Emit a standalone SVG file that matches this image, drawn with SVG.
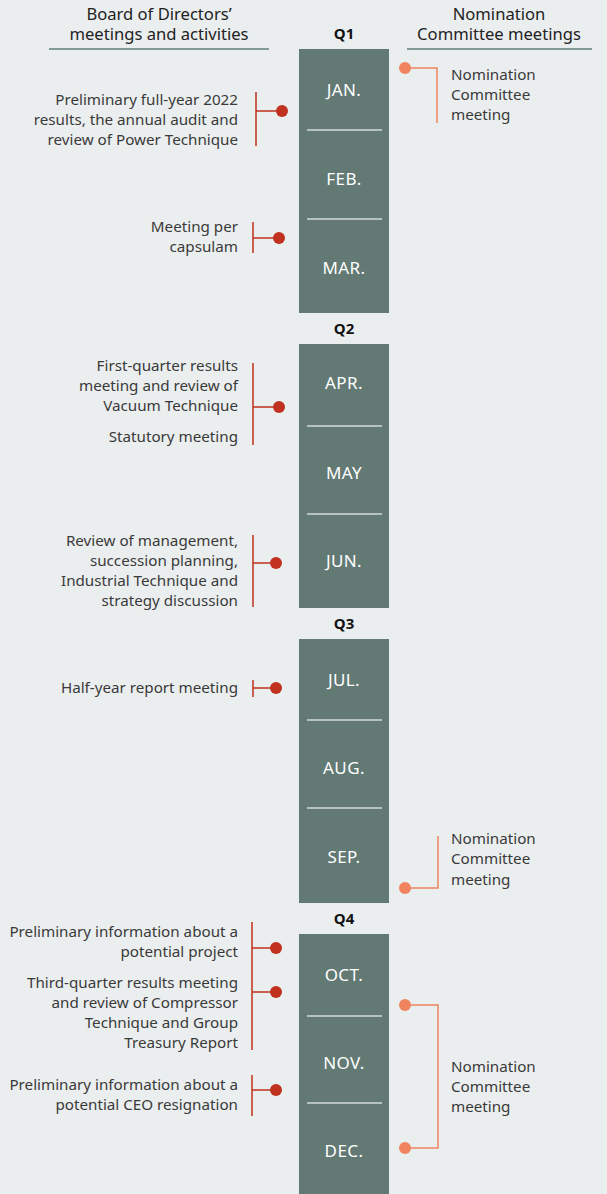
<svg xmlns="http://www.w3.org/2000/svg" width="607" height="1194" viewBox="0 0 607 1194">
<style>
.bg{fill:#ebeeef}
.col{fill:#627974}
.div{stroke:#d5dad8;stroke-width:1.5}
.mon{font-family:"Noto Sans","Open Sans",sans-serif;font-size:17px;letter-spacing:0.4px;fill:#ffffff;text-anchor:middle}
.q{font-family:"Noto Sans","Open Sans",sans-serif;font-size:15px;font-weight:bold;fill:#111111;text-anchor:middle}
.hd{font-family:"Noto Sans","Open Sans",sans-serif;font-size:16.6px;fill:#222222;text-anchor:middle}
.hl{stroke:#1f4744;stroke-width:1.2}
.lt{font-family:"Noto Sans","Open Sans",sans-serif;font-size:15.2px;fill:#3a3a3a;text-anchor:end}
.rt{font-family:"Noto Sans","Open Sans",sans-serif;font-size:15.2px;fill:#3a3a3a}
.red{stroke:#c0311f;stroke-width:1.5;fill:none}
.redd{fill:#c0311f}
.or{stroke:#f0845e;stroke-width:1.5;fill:none}
.ord{fill:#f0845e}
</style>
<rect class="bg" x="0" y="0" width="607" height="1194"/>
<g id="header-left">
<text class="hd" x="159" y="20">Board of Directors’</text>
<text class="hd" x="159" y="40">meetings and activities</text>
<line class="hl" x1="49" y1="49" x2="269" y2="49"/>
</g>
<g id="header-right">
<text class="hd" x="499" y="20">Nomination</text>
<text class="hd" x="499" y="40">Committee meetings</text>
<line class="hl" x1="407" y1="49" x2="592" y2="49"/>
</g>
<g id="q1">
<text class="q" x="344" y="39">Q1</text>
<rect class="col" x="299" y="49" width="90" height="264"/>
<line class="div" x1="307" y1="130" x2="382" y2="130"/>
<line class="div" x1="307" y1="219" x2="382" y2="219"/>
<text class="mon" x="344" y="96">JAN.</text>
<text class="mon" x="344" y="185">FEB.</text>
<text class="mon" x="344" y="274">MAR.</text>
</g>
<g id="q2">
<text class="q" x="344" y="334">Q2</text>
<rect class="col" x="299" y="344" width="90" height="264"/>
<line class="div" x1="307" y1="426" x2="382" y2="426"/>
<line class="div" x1="307" y1="514" x2="382" y2="514"/>
<text class="mon" x="344" y="389">APR.</text>
<text class="mon" x="344" y="479">MAY</text>
<text class="mon" x="344" y="567">JUN.</text>
</g>
<g id="q3">
<text class="q" x="344" y="629">Q3</text>
<rect class="col" x="299" y="639" width="90" height="264"/>
<line class="div" x1="307" y1="720" x2="382" y2="720"/>
<line class="div" x1="307" y1="808" x2="382" y2="808"/>
<text class="mon" x="344" y="686">JUL.</text>
<text class="mon" x="344" y="774">AUG.</text>
<text class="mon" x="344" y="863">SEP.</text>
</g>
<g id="q4">
<text class="q" x="344" y="924">Q4</text>
<rect class="col" x="299" y="934" width="90" height="260"/>
<line class="div" x1="307" y1="1016" x2="382" y2="1016"/>
<line class="div" x1="307" y1="1103" x2="382" y2="1103"/>
<text class="mon" x="344" y="981">OCT.</text>
<text class="mon" x="344" y="1069">NOV.</text>
<text class="mon" x="344" y="1157">DEC.</text>
</g>
<g id="connectors">
<path class="red" d="M256,92 V146 M256,111 H282"/>
<circle class="redd" cx="282" cy="111" r="6"/>
<path class="red" d="M253,222 V253 M253,238 H279"/>
<circle class="redd" cx="279" cy="238" r="6"/>
<path class="red" d="M253,363 V445 M253,407 H279"/>
<circle class="redd" cx="279" cy="407" r="6"/>
<path class="red" d="M253,535 V607 M253,563 H276"/>
<circle class="redd" cx="276" cy="563" r="6"/>
<path class="red" d="M253,680 V697 M253,688 H276"/>
<circle class="redd" cx="276" cy="688" r="6"/>
<path class="red" d="M252,922 V1050 M252,948 H276 M252,992 H276"/>
<circle class="redd" cx="276" cy="948" r="6"/>
<circle class="redd" cx="276" cy="992" r="6"/>
<path class="red" d="M252,1075 V1116 M252,1090 H276"/>
<circle class="redd" cx="276" cy="1090" r="6"/>
<path class="or" d="M405,68 H437 V123"/>
<circle class="ord" cx="405" cy="68" r="6"/>
<path class="or" d="M405,888 H438 V836"/>
<circle class="ord" cx="405" cy="888" r="6"/>
<path class="or" d="M405,1005 H438 V1148 H405"/>
<circle class="ord" cx="405" cy="1005" r="6"/>
<circle class="ord" cx="405" cy="1148" r="6"/>
</g>
<g id="b-jan">
<text class="lt" x="238" y="105">Preliminary full-year 2022</text>
<text class="lt" x="238" y="125">results, the annual audit and</text>
<text class="lt" x="238" y="145">review of Power Technique</text>
</g>
<g id="b-mar">
<text class="lt" x="238" y="232">Meeting per</text>
<text class="lt" x="238" y="252">capsulam</text>
</g>
<g id="b-apr">
<text class="lt" x="238" y="371">First-quarter results</text>
<text class="lt" x="238" y="391">meeting and review of</text>
<text class="lt" x="238" y="411">Vacuum Technique</text>
<text class="lt" x="238" y="442">Statutory meeting</text>
</g>
<g id="b-jun">
<text class="lt" x="238" y="546">Review of management,</text>
<text class="lt" x="238" y="566">succession planning,</text>
<text class="lt" x="238" y="586">Industrial Technique and</text>
<text class="lt" x="238" y="606">strategy discussion</text>
</g>
<g id="b-jul">
<text class="lt" x="238" y="693">Half-year report meeting</text>
</g>
<g id="b-oct1">
<text class="lt" x="238" y="937">Preliminary information about a</text>
<text class="lt" x="238" y="957">potential project</text>
</g>
<g id="b-oct2">
<text class="lt" x="238" y="988">Third-quarter results meeting</text>
<text class="lt" x="238" y="1008">and review of Compressor</text>
<text class="lt" x="238" y="1028">Technique and Group</text>
<text class="lt" x="238" y="1048">Treasury Report</text>
</g>
<g id="b-nov">
<text class="lt" x="238" y="1090">Preliminary information about a</text>
<text class="lt" x="238" y="1110">potential CEO resignation</text>
</g>
<g id="n-jan">
<text class="rt" x="451" y="80">Nomination</text>
<text class="rt" x="451" y="100">Committee</text>
<text class="rt" x="451" y="120">meeting</text>
</g>
<g id="n-sep">
<text class="rt" x="451" y="844">Nomination</text>
<text class="rt" x="451" y="864">Committee</text>
<text class="rt" x="451" y="885">meeting</text>
</g>
<g id="n-q4">
<text class="rt" x="451" y="1072">Nomination</text>
<text class="rt" x="451" y="1092">Committee</text>
<text class="rt" x="451" y="1112">meeting</text>
</g>
</svg>
